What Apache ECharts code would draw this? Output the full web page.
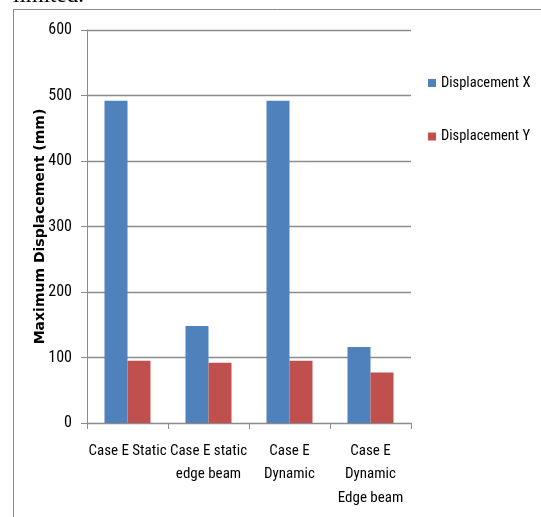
<!DOCTYPE html>
<html>
<head>
<meta charset="utf-8">
<script src="https://cdn.jsdelivr.net/npm/echarts@6/dist/echarts.min.js"></script>
<style>
  html, body { margin: 0; padding: 0; background: #fff; }
  #chart { width: 541px; height: 517px; }
</style>
</head>
<body>
<div id="chart"></div>
<script>
// Maximum displacement per load case
const categories = ['Case E Static', 'Case E static\nedge beam', 'Case E\nDynamic', 'Case E\nDynamic\nEdge beam'];
const displacementX = [492, 148, 492, 116];
const displacementY = [95, 92, 95, 77];
const yTicks = { min: 0, max: 600, interval: 100 };

const labelFont = '"Roboto Condensed", "Liberation Sans", sans-serif';
const chart = echarts.init(document.getElementById('chart'));

chart.setOption({
  animation: false,
  backgroundColor: '#fff',
  graphic: [
    {
      type: 'text', left: 13, top: -16,
      style: { text: 'limited.', font: '23px "Liberation Serif", serif', fill: '#000' }
    },
    {
      type: 'rect', shape: { x: 13.5, y: 9.5, width: 700, height: 700 },
      style: { fill: 'none', stroke: '#8a8a8a', lineWidth: 1 }, silent: true, z: -1
    }
  ],
  legend: {
    orient: 'vertical',
    left: 428,
    top: 75,
    padding: 0,
    itemGap: 37.5,
    itemWidth: 8,
    itemHeight: 8,
    icon: 'rect',
    textStyle: { fontFamily: labelFont, fontSize: 14.5, lineHeight: 16, color: '#000' },
    data: ['Displacement X', 'Displacement Y']
  },
  grid: { left: 87, top: 30, right: 130, bottom: 94, containLabel: false },
  xAxis: {
    type: 'category',
    data: categories,
    axisLine: { lineStyle: { color: '#8c8c8c', width: 1 } },
    axisTick: { show: true, length: 6, lineStyle: { color: '#8c8c8c' } },
    axisLabel: {
      interval: 0, margin: 16, color: '#000',
      fontFamily: labelFont, fontSize: 15, lineHeight: 23.5
    }
  },
  yAxis: {
    type: 'value',
    min: yTicks.min, max: yTicks.max, interval: yTicks.interval,
    name: 'Maximum Displacement (mm)',
    nameLocation: 'middle',
    nameGap: 40,
    nameMoveOverlap: false,
    nameTextStyle: { fontFamily: '"DejaVu Sans", sans-serif', fontWeight: 'bold', fontSize: 14, color: '#000' },
    axisLine: { show: true, lineStyle: { color: '#8c8c8c', width: 1 } },
    axisTick: { show: true, length: 6, lineStyle: { color: '#8c8c8c' } },
    axisLabel: { margin: 15, color: '#000', fontFamily: labelFont, fontSize: 16 },
    splitLine: { lineStyle: { color: '#8c8c8c', width: 1.3 } }
  },
  series: [
    {
      name: 'Displacement X', type: 'bar', data: displacementX,
      barWidth: 23, barGap: '0%',
      itemStyle: { color: '#4F81BD' }
    },
    {
      name: 'Displacement Y', type: 'bar', data: displacementY,
      barWidth: 23, barGap: '0%',
      itemStyle: { color: '#C0504D' }
    }
  ]
});
</script>
</body>
</html>
